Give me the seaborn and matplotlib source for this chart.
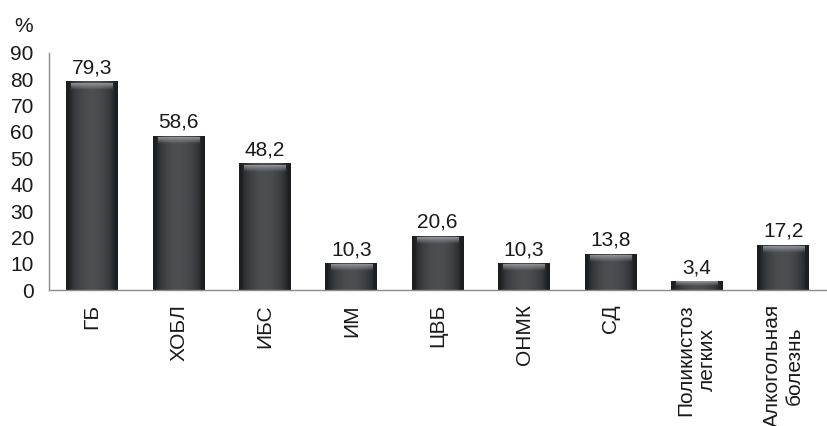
import numpy as np
import pandas as pd
import matplotlib
matplotlib.use("Agg")
import matplotlib.pyplot as plt
import seaborn as sns
from matplotlib.colors import LinearSegmentedColormap

categories = ["ГБ", "ХОБЛ", "ИБС", "ИМ", "ЦВБ", "ОНМК", "СД", "Поликистоз\nлегких", "Алкогольная\nболезнь"]
values = [79.3, 58.6, 48.2, 10.3, 20.6, 10.3, 13.8, 3.4, 17.2]
labels = ["79,3", "58,6", "48,2", "10,3", "20,6", "10,3", "13,8", "3,4", "17,2"]
yticks = [0, 10, 20, 30, 40, 50, 60, 70, 80, 90]

sns.set_style("white")
plt.rcParams['font.family'] = ['Liberation Sans', 'DejaVu Sans']
FS = 15
TXT = "#1a1a1a"

df = pd.DataFrame({"cat": categories, "val": values})
fig = plt.figure(figsize=(8.27, 4.26), dpi=100)
ax = fig.add_axes([0.0593, 0.319, 0.940, 0.557])
sns.barplot(data=df, x="cat", y="val", color="#45484b", width=0.6, saturation=1, ax=ax)

# bevel/gradient look
grad = np.linspace(0, 1, 60)
shade = np.sin(np.pi * np.clip(grad * 1.12 - 0.06, 0, 1)) ** 0.6
img = np.tile(shade, (20, 1))
cmap = LinearSegmentedColormap.from_list("g", ["#1c1e20", "#4c4f52"])
px_per_unit = (290 - 53) / 90.0
for p in ax.patches:
    x0, y0 = p.get_x(), p.get_y()
    w, h = p.get_width(), p.get_height()
    z = p.get_zorder()
    im = ax.imshow(img, extent=[x0, x0 + w, y0, y0 + h], aspect="auto",
                   cmap=cmap, vmin=0.0, vmax=1.0, zorder=z + 0.1)
    im.set_clip_path(p)
    # top bevel highlight
    top = y0 + h
    band_top = top - min(2.5, h * 0.25) / px_per_unit
    band_h = min(6.0, h * px_per_unit * 0.45) / px_per_unit
    hl = np.tile(np.linspace(1, 0, 20)[:, None], (1, 20))
    cm2 = LinearSegmentedColormap.from_list("h", [(0.6, 0.62, 0.64, 0.0), (0.62, 0.64, 0.66, 0.85)])
    im2 = ax.imshow(hl, extent=[x0 + w * 0.1, x0 + w * 0.9, band_top - band_h, band_top],
                    aspect="auto", cmap=cm2, vmin=0, vmax=1, zorder=z + 0.2)
    im2.set_clip_path(p)

for i, (v, lab) in enumerate(zip(values, labels)):
    ax.text(i, v + 3.0, lab, ha="center", va="baseline", fontsize=FS, color=TXT)

ax.set_xlim(-0.5, len(categories) - 0.5)
ax.set_ylim(0, 90)
ax.set_yticks(yticks)
ax.set_yticklabels([str(t) for t in yticks], fontsize=FS, color=TXT)
ax.set_xticks(range(len(categories)))
ax.set_xticklabels(categories, rotation=90, fontsize=FS, color=TXT, ha="center", va="top",
                   multialignment="center")
ax.tick_params(axis="y", length=0, pad=11)
ax.tick_params(axis="x", length=0, pad=10)
ax.set_xlabel("")
ax.set_ylabel("")
for s in ["top", "right"]:
    ax.spines[s].set_visible(False)
for s in ["left", "bottom"]:
    ax.spines[s].set_color("#8c8c8c")
    ax.spines[s].set_linewidth(1.0)
fig.text(24 / 827, 1 - 27 / 426, "%", fontsize=FS, ha="center", va="center", color=TXT)

fig.savefig("out.png", dpi=100)
